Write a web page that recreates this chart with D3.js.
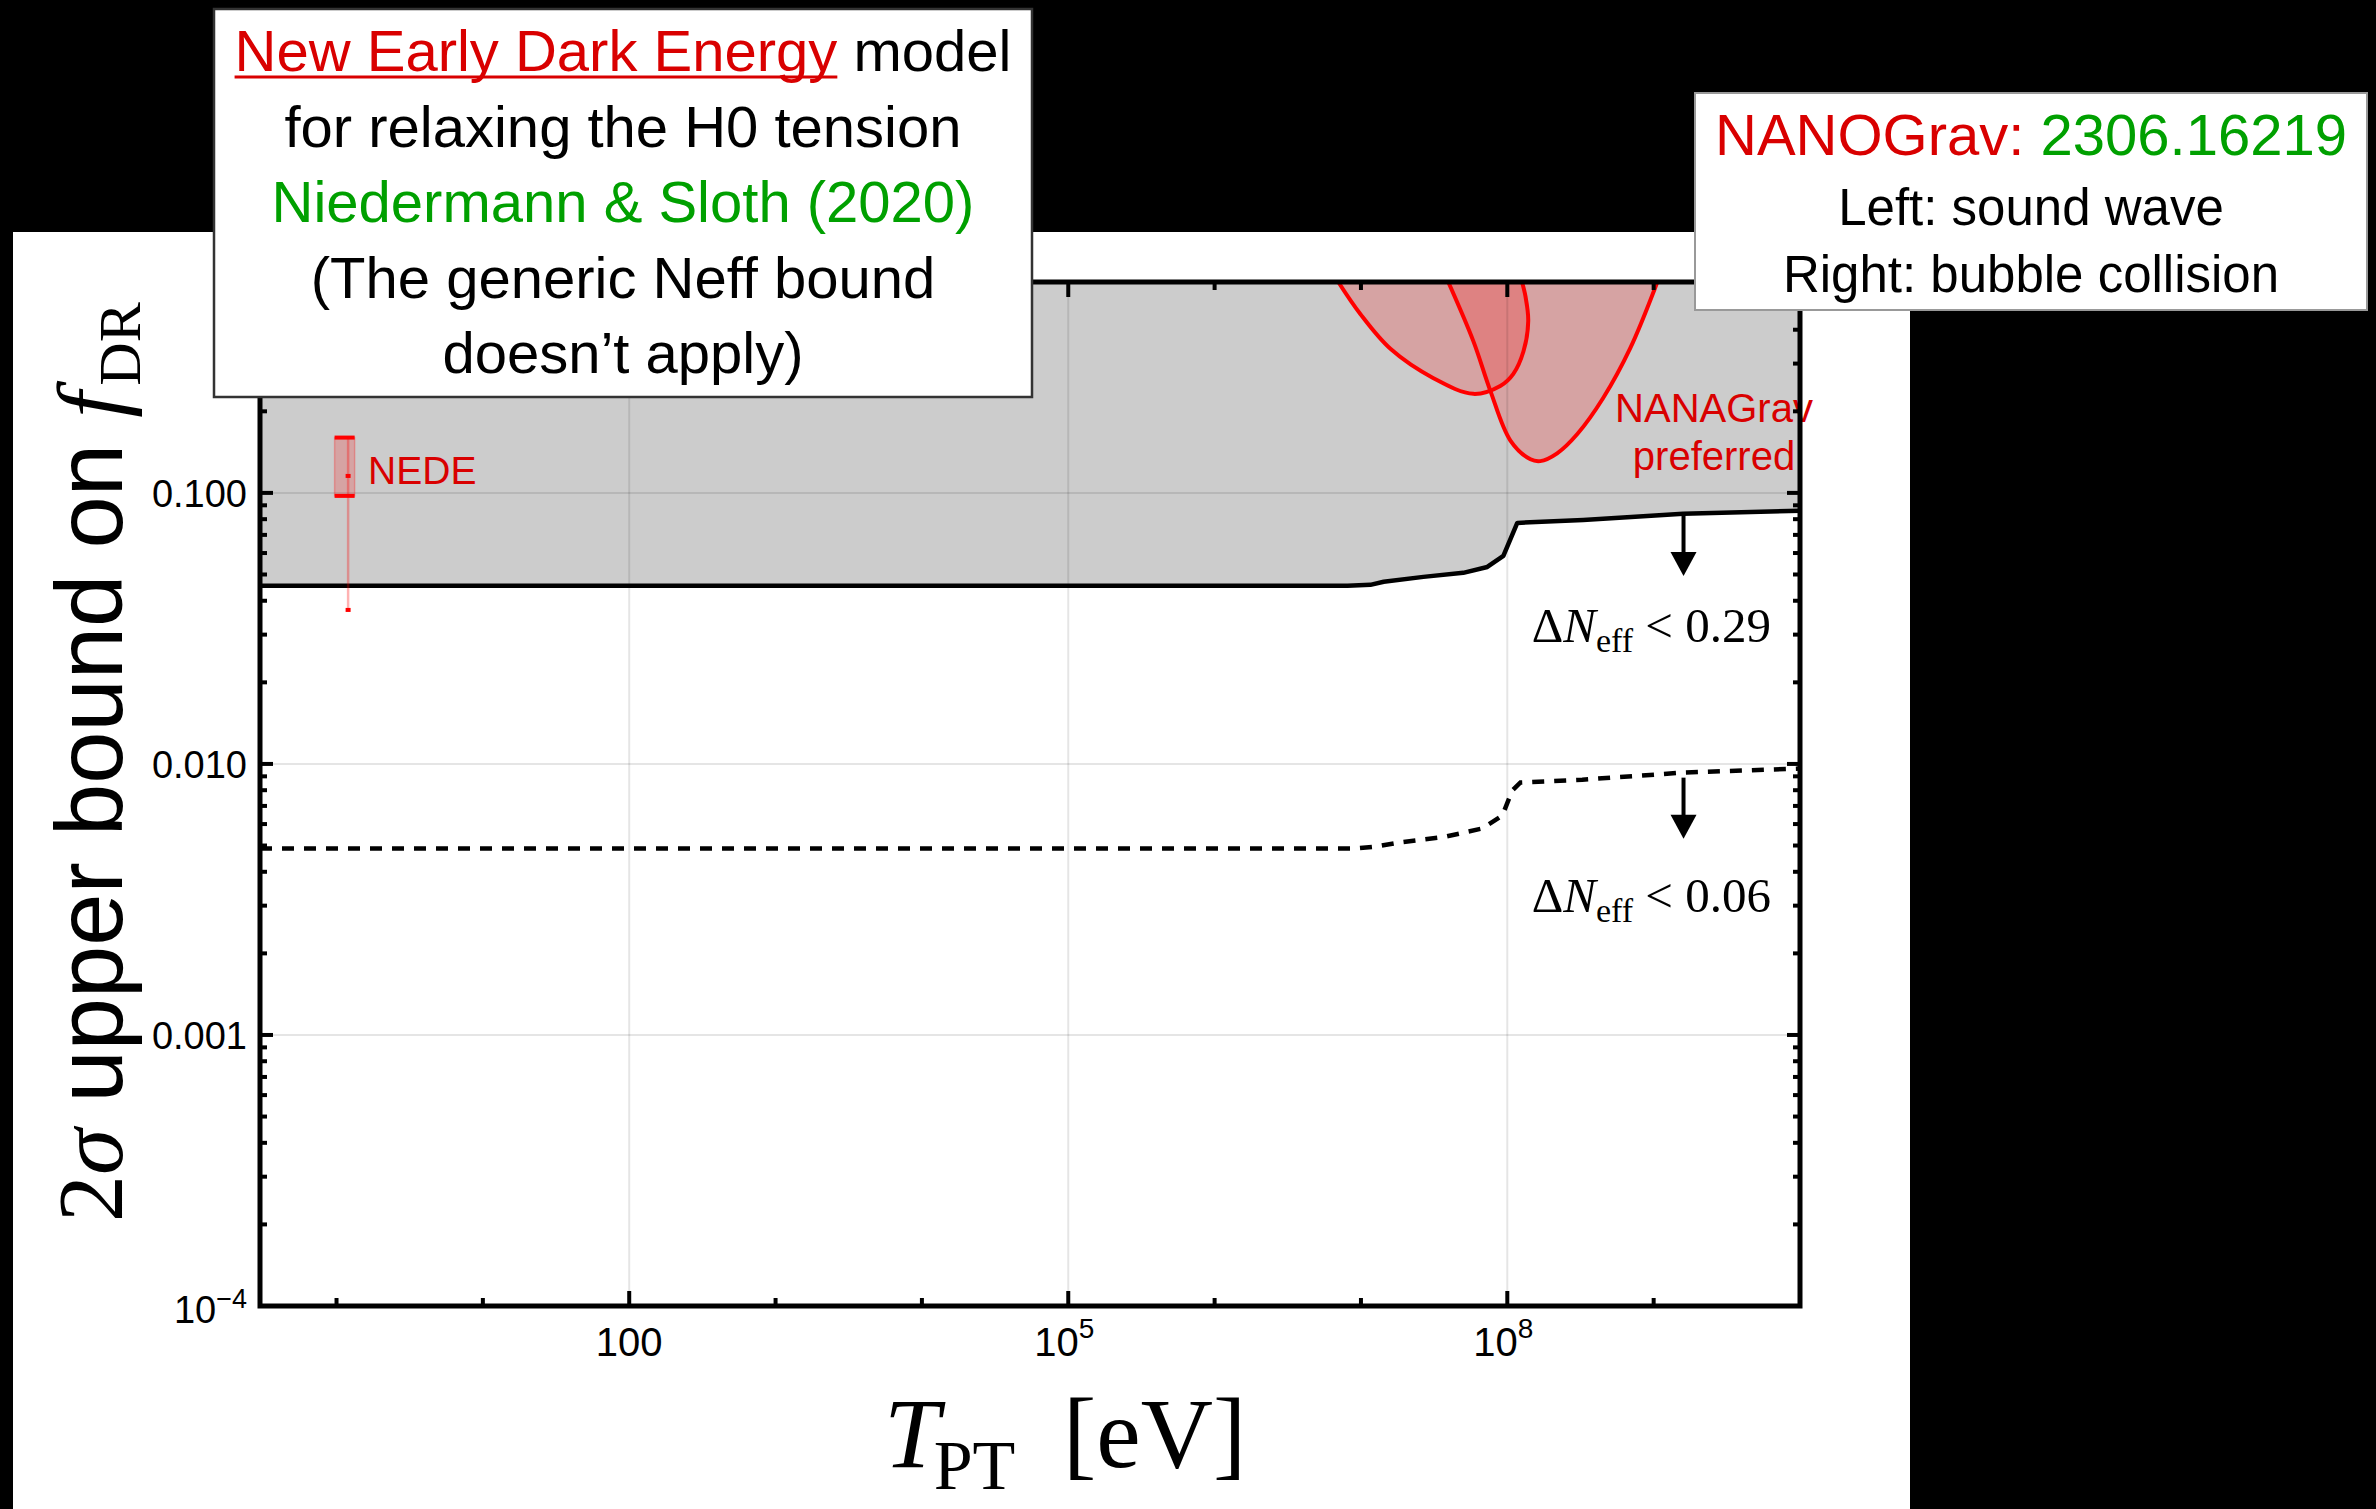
<!DOCTYPE html>
<html>
<head>
<meta charset="utf-8">
<script src="https://cdn.jsdelivr.net/npm/d3@7"></script>
<style>
  body { margin: 0; background: #000; }
  svg { display: block; }
</style>
</head>
<body>
<svg id="chart"></svg>
<script>
// ---- data ----
var xMajorTicks = [1e2, 1e5, 1e8];
var xTickBase   = ["100", "10", "10"];
var xTickExp    = ["", "5", "8"];
var xMinorTicks = [1, 10, 1e3, 1e4, 1e6, 1e7, 1e9];

var yMajorTicks = [0.1, 0.01, 0.001, 1e-4];
var yTickBase   = ["0.100", "0.010", "0.001", "10"];
var yTickExp    = ["", "", "", "\u22124"];

// Delta N_eff < 0.29 bound (solid)
var boundT029 = [0.3, 8.1e6, 1.16e7, 1.43e7, 2.67e7, 5.0e7, 7.3e7, 9.4e7, 1.17e8, 3.3e8, 1.59e9, 1e10];
var boundF029 = [0.0454, 0.0454, 0.0458, 0.0470, 0.0490, 0.0507, 0.0533, 0.0586, 0.0775, 0.0795, 0.0837, 0.0859];
// Delta N_eff < 0.06 bound (dashed)
var boundT006 = [0.3, 9.3e6, 1.28e7, 1.83e7, 3.84e7, 6.75e7, 9.25e7, 1.08e8, 1.23e8, 3.25e8, 1.59e9, 1e10];
var boundF006 = [0.00488, 0.00488, 0.00496, 0.00513, 0.00540, 0.00578, 0.00645, 0.00797, 0.00854, 0.00875, 0.00929, 0.00962];

// NANOGrav preferred regions
var soundT = [7.0e6, 9.9e6, 1.59e7, 3.13e7, 5.86e7, 8.95e7, 1.10e8, 1.29e8, 1.39e8, 1.33e8, 1.26e8];
var soundF = [0.60, 0.457, 0.340, 0.265, 0.232, 0.248, 0.275, 0.333, 0.431, 0.532, 0.60];
var bubbleT = [3.95e7, 5.86e7, 7.66e7, 1.05e8, 1.44e8, 1.68e8, 2.19e8, 3.01e8, 4.52e8, 6.92e8, 1.06e9];
var bubbleF = [0.60, 0.363, 0.238, 0.156, 0.133, 0.131, 0.140, 0.165, 0.224, 0.342, 0.60];

// NEDE error bar
var nedeT = 1.2;
var nedeBoxT = [0.97, 1.33];
var nedeF = [0.037, 0.0975, 0.1155, 0.16]; // min, box low, central, box high

// arrows under the bounds
var arrowT = 1.6e9;
var arrow029 = [0.0837, 0.0494];
var arrow006 = [0.0089, 0.0053];

// ---- layout ----
var width = 2376, height = 1509;
var frame = {left: 260, right: 1800, top: 282, bottom: 1306};
var sans = "'Liberation Sans', Arial, Helvetica, sans-serif";
var serif = "'Liberation Serif', 'Times New Roman', Times, serif";
var red = "#d90000", green = "#00a000";

var svg = d3.select('#chart')
            .attr('width', width)
            .attr('height', height)
            .style('background', '#000');

// white panel behind the plot
svg.append('rect')
   .attr('x', 13).attr('y', 232)
   .attr('width', 1897).attr('height', height - 232)
   .attr('fill', '#fff');

var x = d3.scaleLog().domain([0.3, 1e10]).range([frame.left, frame.right]);
var y = d3.scaleLog().domain([1e-4, 0.6]).range([frame.bottom, frame.top]);

svg.append('clipPath').attr('id', 'plotclip')
   .append('rect')
   .attr('x', frame.left).attr('y', frame.top)
   .attr('width', frame.right - frame.left)
   .attr('height', frame.bottom - frame.top);

var plot = svg.append('g').attr('clip-path', 'url(#plotclip)');

var bound029 = boundT029.map((t, i) => ({t: t, f: boundF029[i]}));
var bound006 = boundT006.map((t, i) => ({t: t, f: boundF006[i]}));

// excluded (gray) region above the solid bound
plot.append('path')
    .datum(bound029)
    .attr('fill', '#cccccc')
    .attr('d', d3.area().x(d => x(d.t)).y0(y(0.6)).y1(d => y(d.f)));

// NANOGrav contours
var contourLine = d3.line().x(d => x(d.t)).y(d => y(d.f)).curve(d3.curveCatmullRom.alpha(0.5));
var contours = [
  soundT.map((t, i) => ({t: t, f: soundF[i]})),
  bubbleT.map((t, i) => ({t: t, f: bubbleF[i]}))
];
contours.forEach(c => {
  plot.append('path')
      .attr('d', contourLine(c) + 'Z')
      .attr('fill', 'rgba(255,0,0,0.2)');
});

// grid lines
plot.selectAll('line.vgrid').data(xMajorTicks).enter()
    .append('line').attr('class', 'vgrid')
    .attr('x1', d => x(d)).attr('x2', d => x(d))
    .attr('y1', frame.top).attr('y2', frame.bottom)
    .attr('stroke', 'rgba(0,0,0,0.1)').attr('stroke-width', 2);
plot.selectAll('line.hgrid').data(yMajorTicks.slice(0, 3)).enter()
    .append('line').attr('class', 'hgrid')
    .attr('x1', frame.left).attr('x2', frame.right)
    .attr('y1', d => y(d)).attr('y2', d => y(d))
    .attr('stroke', 'rgba(0,0,0,0.1)').attr('stroke-width', 2);

contours.forEach(c => {
  plot.append('path')
      .attr('d', contourLine(c))
      .attr('fill', 'none')
      .attr('stroke', '#ff0000')
      .attr('stroke-width', 4);
});

// bounds
var boundLine = d3.line().x(d => x(d.t)).y(d => y(d.f));
plot.append('path').datum(bound029)
    .attr('d', boundLine)
    .attr('fill', 'none').attr('stroke', '#000').attr('stroke-width', 4.5)
    .attr('stroke-linejoin', 'round');
plot.append('path').datum(bound006)
    .attr('d', boundLine)
    .attr('fill', 'none').attr('stroke', '#000').attr('stroke-width', 4.5)
    .attr('stroke-dasharray', '12,10');

// arrows
[arrow029, arrow006].forEach(a => {
  var ax = x(arrowT), y0 = y(a[0]), y1 = y(a[1]);
  plot.append('line')
      .attr('x1', ax).attr('x2', ax)
      .attr('y1', y0).attr('y2', y1 - 20)
      .attr('stroke', '#000').attr('stroke-width', 4);
  plot.append('path')
      .attr('d', 'M' + (ax - 13) + ',' + (y1 - 24) + 'L' + (ax + 13) + ',' + (y1 - 24) + 'L' + ax + ',' + y1 + 'Z')
      .attr('fill', '#000');
});

// NEDE error bar
var nx = x(nedeT);
plot.append('rect')
    .attr('x', x(nedeBoxT[0])).attr('width', x(nedeBoxT[1]) - x(nedeBoxT[0]))
    .attr('y', y(nedeF[3])).attr('height', y(nedeF[1]) - y(nedeF[3]))
    .attr('fill', 'rgba(255,0,0,0.2)')
    .attr('stroke', 'rgba(255,0,0,0.25)').attr('stroke-width', 1.5);
plot.append('line')
    .attr('x1', nx).attr('x2', nx)
    .attr('y1', y(nedeF[3])).attr('y2', y(nedeF[0]))
    .attr('stroke', 'rgba(255,0,0,0.3)').attr('stroke-width', 2.5);
[nedeF[1], nedeF[3]].forEach(f => {
  plot.append('line')
      .attr('x1', x(nedeBoxT[0])).attr('x2', x(nedeBoxT[1]))
      .attr('y1', y(f)).attr('y2', y(f))
      .attr('stroke', '#ff0000').attr('stroke-width', 4);
});
[nedeF[2], nedeF[0]].forEach(f => {
  plot.append('rect')
      .attr('x', nx - 2.5).attr('y', y(f) - 2)
      .attr('width', 5).attr('height', 4)
      .attr('fill', '#ff0000');
});

// text annotations inside the plot
svg.append('text')
   .attr('x', nx + 20).attr('y', y(nedeF[2]) + 8)
   .attr('font-family', sans).attr('font-size', 39)
   .attr('fill', red).text('NEDE');

var nanaLabel = svg.append('text')
   .attr('font-family', sans).attr('font-size', 40)
   .attr('fill', red).attr('text-anchor', 'middle');
nanaLabel.append('tspan').attr('x', 1714).attr('y', 422).text('NANAGrav');
nanaLabel.append('tspan').attr('x', 1714).attr('y', 470).text('preferred');

function neffLabel(value, baseline) {
  var t = svg.append('text')
     .attr('x', 1771).attr('y', baseline)
     .attr('text-anchor', 'end')
     .attr('font-family', serif).attr('font-size', 49).attr('fill', '#000');
  t.append('tspan').text('\u0394');
  t.append('tspan').attr('font-style', 'italic').text('N');
  t.append('tspan').attr('font-size', 34).attr('dy', 10).text('eff');
  t.append('tspan').attr('dy', -10).text(' < ' + value);
}
neffLabel('0.29', 642);
neffLabel('0.06', 912);

// ---- frame and ticks ----
var axes = svg.append('g');
axes.append('rect')
    .attr('x', frame.left).attr('y', frame.top)
    .attr('width', frame.right - frame.left)
    .attr('height', frame.bottom - frame.top)
    .attr('fill', 'none').attr('stroke', '#000').attr('stroke-width', 5);

function xTick(v, len) {
  axes.append('line').attr('x1', x(v)).attr('x2', x(v))
      .attr('y1', frame.bottom).attr('y2', frame.bottom - len)
      .attr('stroke', '#000').attr('stroke-width', 4);
  axes.append('line').attr('x1', x(v)).attr('x2', x(v))
      .attr('y1', frame.top).attr('y2', frame.top + len)
      .attr('stroke', '#000').attr('stroke-width', 4);
}
function yTick(v, len) {
  axes.append('line').attr('x1', frame.left).attr('x2', frame.left + len)
      .attr('y1', y(v)).attr('y2', y(v))
      .attr('stroke', '#000').attr('stroke-width', 4);
  axes.append('line').attr('x1', frame.right).attr('x2', frame.right - len)
      .attr('y1', y(v)).attr('y2', y(v))
      .attr('stroke', '#000').attr('stroke-width', 4);
}
xMajorTicks.forEach(v => xTick(v, 15));
xMinorTicks.forEach(v => xTick(v, 8));
yMajorTicks.forEach(v => yTick(v, 13));
y.ticks().filter(v => yMajorTicks.indexOf(v) < 0 && v < 0.6).forEach(v => yTick(v, 7));

// tick labels
xMajorTicks.forEach((v, i) => {
  var t = axes.append('text')
      .attr('x', x(v) - (xTickExp[i] ? 4 : 0)).attr('y', frame.bottom + 50)
      .attr('text-anchor', 'middle')
      .attr('font-family', sans).attr('font-size', 40).attr('fill', '#000');
  t.append('tspan').text(xTickBase[i]);
  if (xTickExp[i]) t.append('tspan').attr('font-size', 28).attr('dy', -18).text(xTickExp[i]);
});
yMajorTicks.forEach((v, i) => {
  var t = axes.append('text')
      .attr('x', 247).attr('y', y(v) + 14 + (yTickExp[i] ? 3 : 0))
      .attr('text-anchor', 'end')
      .attr('font-family', sans).attr('font-size', 38).attr('fill', '#000');
  t.append('tspan').text(yTickBase[i]);
  if (yTickExp[i]) t.append('tspan').attr('font-size', 27).attr('dy', -15).text(yTickExp[i]);
});

// axis titles
var xt = axes.append('text')
    .attr('x', 884).attr('y', 1467)
    .attr('font-family', serif).attr('font-size', 100).attr('fill', '#000');
xt.append('tspan').attr('font-style', 'italic').text('T');
xt.append('tspan').attr('font-size', 70).attr('dy', 22).attr('dx', -6).text('PT');
axes.append('text')
    .attr('x', 1063).attr('y', 1467)
    .attr('font-family', serif).attr('font-size', 100).attr('fill', '#000')
    .text('[eV]');

var yt = axes.append('text')
    .attr('transform', 'translate(122,1222) rotate(-90)')
    .attr('font-family', serif).attr('font-size', 94).attr('fill', '#000');
yt.append('tspan').text('2');
yt.append('tspan').attr('font-style', 'italic').text('\u03c3');
yt.append('tspan').attr('font-family', sans).attr('font-size', 94).text(' upper bound on ');
yt.append('tspan').attr('font-style', 'italic').text('f');
yt.append('tspan').attr('font-size', 60).attr('dy', 18).attr('dx', 6).text('DR');

// ---- boxes ----
var box1 = svg.append('g');
box1.append('rect')
    .attr('x', 214).attr('y', 9).attr('width', 818).attr('height', 388)
    .attr('fill', '#fff').attr('stroke', '#333').attr('stroke-width', 2.5);
var b1 = box1.append('g')
    .attr('font-family', sans).attr('font-size', 58).attr('text-anchor', 'middle');
var line1 = b1.append('text').attr('x', 623).attr('y', 71);
var nede = line1.append('tspan').attr('fill', red).text('New Early Dark Energy');
line1.append('tspan').attr('fill', '#000').text(' model');
b1.append('text').attr('x', 623).attr('y', 147).attr('fill', '#000').text('for relaxing the H0 tension');
b1.append('text').attr('x', 623).attr('y', 222).attr('fill', green).text('Niedermann & Sloth (2020)');
b1.append('text').attr('x', 623).attr('y', 298).attr('fill', '#000').text('(The generic Neff bound');
b1.append('text').attr('x', 623).attr('y', 373).attr('fill', '#000').text('doesn\u2019t apply)');
// underline of the red phrase
var nn = nede.node();
var uStart = nn.getStartPositionOfChar(0).x;
var uEnd = nn.getEndPositionOfChar(nn.getNumberOfChars() - 1).x;
box1.append('line')
    .attr('x1', uStart).attr('x2', uEnd)
    .attr('y1', 77).attr('y2', 77)
    .attr('stroke', red).attr('stroke-width', 3);

var box2 = svg.append('g');
box2.append('rect')
    .attr('x', 1695).attr('y', 93).attr('width', 672).attr('height', 217)
    .attr('fill', '#fff').attr('stroke', '#999').attr('stroke-width', 2);
var b2 = box2.append('g').attr('font-family', sans).attr('text-anchor', 'middle');
var l1 = b2.append('text').attr('x', 2031).attr('y', 155).attr('font-size', 58);
l1.append('tspan').attr('fill', red).text('NANOGrav: ');
l1.append('tspan').attr('fill', green).text('2306.16219');
b2.append('text').attr('x', 2031).attr('y', 225).attr('font-size', 51).attr('fill', '#000').text('Left: sound wave');
b2.append('text').attr('x', 2031).attr('y', 292).attr('font-size', 51).attr('fill', '#000').text('Right: bubble collision');
</script>
</body>
</html>
